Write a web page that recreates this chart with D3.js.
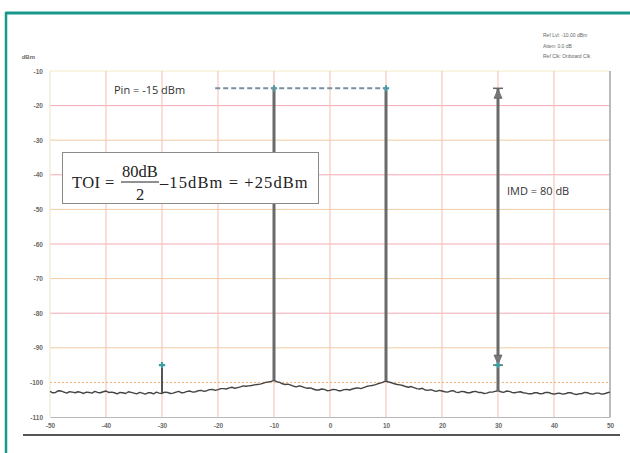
<!DOCTYPE html>
<html>
<head>
<meta charset="utf-8">
<script src="https://cdn.jsdelivr.net/npm/d3@7/dist/d3.min.js"></script>
<style>
  html, body { margin: 0; padding: 0; background: #fff; }
  svg { display: block; }
</style>
</head>
<body>
<svg id="chart" width="630" height="453"></svg>
<script>
// ---- Data -------------------------------------------------------------
// Frequency offset axis (MHz from centre) and level axis (dBm)
const freqTicks = [-50, -40, -30, -20, -10, 0, 10, 20, 30, 40, 50];
const levelTicks = [-10, -20, -30, -40, -50, -60, -70, -80, -90, -100, -110];

// Measured noise floor, one sample every 0.5 MHz starting at -50 MHz
const traceStart = -50;
const traceStep = 0.5;
const traceLevel = [
  -102.6, -103.0, -102.9, -102.4, -102.5, -102.8, -103.1, -102.7, -102.8, -103.0,
  -102.7, -102.9, -103.2, -102.8, -102.9, -103.1, -102.6, -102.9, -103.0, -102.7,
  -102.5, -102.9, -102.8, -103.0, -103.3, -102.9, -103.0, -103.2, -102.7, -102.9,
  -103.1, -103.3, -102.9, -103.1, -103.4, -103.0, -103.0, -103.3, -102.8, -103.1,
  -103.2, -102.8, -102.9, -103.2, -103.1, -102.8, -102.6, -103.0, -102.9, -102.6,
  -102.5, -102.8, -102.7, -102.4, -102.3, -102.6, -102.4, -102.1, -102.0, -102.3,
  -102.1, -101.8, -101.8, -101.9, -101.6, -101.4, -101.7, -101.5, -101.3, -101.0,
  -101.1, -101.0, -100.9, -100.7, -100.6, -100.5, -100.3, -100.0, -99.9, -99.7,
  -99.4, -99.8, -100.0, -100.4, -100.6, -100.5, -100.8, -101.1, -101.3, -101.0,
  -101.2, -101.5, -101.7, -101.6, -101.9, -102.2, -102.2, -101.9, -102.0, -102.4,
  -102.3, -102.0, -102.1, -102.4, -102.4, -102.1, -102.0, -102.2, -101.9, -101.7,
  -101.6, -101.8, -101.5, -101.2, -101.0, -100.9, -100.7, -100.4, -100.2, -99.9,
  -99.6, -99.9, -100.1, -100.4, -100.6, -100.7, -100.9, -101.2, -101.4, -101.2,
  -101.5, -101.8, -101.9, -101.7, -102.2, -102.3, -102.1, -102.4, -102.6, -102.3,
  -102.5, -102.7, -102.8, -102.5, -102.4, -102.8, -102.9, -102.6, -102.7, -103.0,
  -103.0, -102.7, -102.6, -102.9, -102.9, -103.2, -103.1, -102.8, -102.8, -102.6,
  -102.4, -102.7, -102.9, -102.5, -102.6, -102.9, -103.0, -102.8, -102.7, -103.0,
  -103.1, -103.3, -103.3, -103.0, -103.0, -103.3, -103.2, -102.9, -102.9, -103.2,
  -103.4, -103.2, -103.1, -103.4, -103.3, -103.0, -103.0, -103.3, -103.5, -103.3,
  -103.2, -102.9, -103.0, -103.3, -103.4, -103.1, -103.1, -103.4, -103.3, -103.0,
  -102.8
];

// Two input tones and the third-order intermodulation products
const toneFreq = [-10, 10];
const toneLevel = [-15, -15];
const imdFreq = [-30, 30];
const imdLevel = [-95, -95];

// Annotations
const pinLevel = -15;
const pinLineStart = -20.5;
const imdDb = 80;
const instrumentInfo = ["Ref Lvl: -10.00 dBm", "Atten: 0.0 dB", "Ref Clk: Onboard Clk"];

// ---- Layout -----------------------------------------------------------
const svg = d3.select("#chart");
const W = 630, H = 453;
const plot = { left: 50, right: 610, top: 71, bottom: 417 };

const x = d3.scaleLinear().domain([-50, 50]).range([plot.left, plot.right]);
const y = d3.scaleLinear().domain([-110, -10]).range([plot.bottom, plot.top]);

const teal = "#17988a";
const markerTeal = "#3a9fa3";

// Frame
svg.append("line").attr("x1", 5.5).attr("x2", W).attr("y1", 13).attr("y2", 13)
  .attr("stroke", teal).attr("stroke-width", 3);
svg.append("line").attr("x1", 6).attr("x2", 6).attr("y1", 12).attr("y2", H)
  .attr("stroke", teal).attr("stroke-width", 2.5);

// ---- Grid -------------------------------------------------------------
const grid = svg.append("g");
levelTicks.forEach(v => {
  if (v === -110) return;
  let color, dash = null;
  if (v === -10) color = "#f3ebc6";
  else if (v === -100) { color = "#f2aa6a"; dash = "2,2"; }
  else if (v % 20 === 0) color = "#f4abb8";
  else color = "#f3cca6";
  grid.append("line")
    .attr("x1", plot.left).attr("x2", plot.right)
    .attr("y1", y(v)).attr("y2", y(v))
    .attr("stroke", color).attr("stroke-width", 1)
    .attr("stroke-dasharray", dash);
});
freqTicks.forEach(f => {
  if (f === 50) return;
  grid.append("line")
    .attr("x1", x(f)).attr("x2", x(f))
    .attr("y1", plot.top).attr("y2", plot.bottom)
    .attr("stroke", f === -50 ? "#ebe4c8" : "#f2bfae").attr("stroke-width", 1);
});
// Right border of the display
grid.append("line").attr("x1", x(50)).attr("x2", x(50))
  .attr("y1", plot.top).attr("y2", plot.bottom)
  .attr("stroke", "#a5a5a5").attr("stroke-width", 1.5);

// ---- Axes -------------------------------------------------------------
const tickFont = "Liberation Sans, Arial, sans-serif";
const yAxis = svg.append("g")
  .attr("transform", `translate(${plot.left},0)`)
  .call(d3.axisLeft(y).tickValues(levelTicks).tickSize(0).tickPadding(7)
    .tickFormat(d => d));
yAxis.select(".domain").remove();
yAxis.selectAll("text")
  .attr("font-family", tickFont)
  .attr("font-size", 6.5).attr("font-weight", "bold").attr("fill", "#6a6a6a");

const xAxis = svg.append("g")
  .attr("transform", `translate(0,${plot.bottom})`)
  .call(d3.axisBottom(x).tickValues(freqTicks).tickSize(0).tickPadding(6)
    .tickFormat(d => d));
xAxis.select(".domain").attr("stroke", "#b8b8b8").attr("stroke-width", 1.2);
xAxis.selectAll("text")
  .attr("font-family", tickFont)
  .attr("font-size", 6.5).attr("font-weight", "bold").attr("fill", "#6a6a6a");

svg.append("text").attr("x", 35).attr("y", 59).attr("text-anchor", "end")
  .attr("font-family", tickFont)
  .attr("font-size", 6).attr("font-weight", "bold").attr("fill", "#6a6a6a")
  .text("dBm");

// Rule under the axis labels
svg.append("line").attr("x1", 23).attr("x2", 620).attr("y1", 435).attr("y2", 435)
  .attr("stroke", "#555").attr("stroke-width", 2);

// Instrument settings block
svg.append("g").selectAll("text").data(instrumentInfo).join("text")
  .attr("x", 543).attr("y", (d, i) => 37 + i * 10.5)
  .attr("font-family", tickFont)
  .attr("font-size", 5).attr("fill", "#666")
  .text(d => d);

// ---- Spectrum trace -------------------------------------------------------
const trace = traceLevel.map((v, i) => ({ f: traceStart + i * traceStep, v }));
const floorAt = f => {
  const i = Math.round((f - traceStart) / traceStep);
  return traceLevel[Math.max(0, Math.min(traceLevel.length - 1, i))];
};

svg.append("path")
  .datum(trace)
  .attr("fill", "none").attr("stroke", "#444").attr("stroke-width", 1.4)
  .attr("stroke-linejoin", "round")
  .attr("d", d3.line().x(d => x(d.f)).y(d => y(d.v)));

// Tones
const tones = toneFreq.map((f, i) => ({ f, v: toneLevel[i] }));
svg.append("g").selectAll("line").data(tones).join("line")
  .attr("x1", d => x(d.f)).attr("x2", d => x(d.f))
  .attr("y1", d => y(floorAt(d.f))).attr("y2", d => y(d.v))
  .attr("stroke", "#6a6a6a").attr("stroke-width", 3);

// Intermodulation products
const imds = imdFreq.map((f, i) => ({ f, v: imdLevel[i] }));
svg.append("g").selectAll("line").data(imds).join("line")
  .attr("x1", d => x(d.f)).attr("x2", d => x(d.f))
  .attr("y1", d => y(floorAt(d.f))).attr("y2", d => y(d.v))
  .attr("stroke", "#555").attr("stroke-width", 2);

// IMD dimension line from tone level down to the product
const dimF = imdFreq[1];
const dimTop = pinLevel, dimBot = imdLevel[1];
svg.append("line")
  .attr("x1", x(dimF)).attr("x2", x(dimF))
  .attr("y1", y(dimTop)).attr("y2", y(floorAt(dimF)))
  .attr("stroke", "#6a6a6a").attr("stroke-width", 3);
const arrowG = svg.append("g").attr("fill", "#777").attr("stroke", "#666");
// top arrow: bar plus head pointing up
arrowG.append("line").attr("x1", x(dimF) - 5).attr("x2", x(dimF) + 5)
  .attr("y1", y(dimTop)).attr("y2", y(dimTop)).attr("stroke-width", 1.5);
arrowG.append("path").attr("stroke-width", 0.8)
  .attr("d", `M${x(dimF)},${y(dimTop) + 1} l-4,9 l8,0 Z`);
// bottom arrow: head pointing down to bar
arrowG.append("line").attr("x1", x(dimF) - 5).attr("x2", x(dimF) + 5)
  .attr("y1", y(dimBot)).attr("y2", y(dimBot)).attr("stroke-width", 1.5);
arrowG.append("path").attr("stroke-width", 0.8)
  .attr("d", `M${x(dimF)},${y(dimBot) - 1} l-4,-9 l8,0 Z`);

// Peak markers
const markers = tones.concat(imds);
svg.append("g").selectAll("path").data(markers).join("path")
  .attr("transform", d => `translate(${x(d.f)},${y(d.v)})`)
  .attr("d", d3.symbol(d3.symbolCross, 22)())
  .attr("fill", markerTeal).attr("stroke", "none");

// ---- Annotations ------------------------------------------------------
// Input power reference
svg.append("line")
  .attr("x1", x(pinLineStart)).attr("x2", x(toneFreq[1]))
  .attr("y1", y(pinLevel)).attr("y2", y(pinLevel))
  .attr("stroke", "#7a8fa0").attr("stroke-width", 2)
  .attr("stroke-dasharray", "5,3");
svg.append("text").attr("x", 114).attr("y", y(pinLevel) + 6)
  .attr("font-family", "Open Sans, Liberation Sans, sans-serif")
  .attr("font-size", 11).attr("fill", "#333")
  .text(`Pin = ${pinLevel} dBm`);

svg.append("text").attr("x", 507).attr("y", 195)
  .attr("font-family", "Open Sans, Liberation Sans, sans-serif")
  .attr("font-size", 11).attr("fill", "#333")
  .text(`IMD = ${imdDb} dB`);

// TOI formula box
const toi = imdDb / 2 + pinLevel;
const box = svg.append("g");
box.append("rect").attr("x", 62.5).attr("y", 152.5).attr("width", 256).attr("height", 51)
  .attr("fill", "#fff").attr("stroke", "#8a8a8a").attr("stroke-width", 1);
const serif = "Liberation Serif, Times New Roman, serif";
box.append("text").attr("x", 72).attr("y", 188)
  .attr("font-family", serif).attr("font-size", 16.5).attr("fill", "#222")
  .attr("letter-spacing", 0.4)
  .text("TOI =");
box.append("text").attr("x", 140).attr("y", 177).attr("text-anchor", "middle")
  .attr("font-family", serif).attr("font-size", 16.5).attr("fill", "#222")
  .text(`${imdDb}dB`);
box.append("line").attr("x1", 121).attr("x2", 159).attr("y1", 182).attr("y2", 182)
  .attr("stroke", "#222").attr("stroke-width", 1);
box.append("text").attr("x", 140).attr("y", 200).attr("text-anchor", "middle")
  .attr("font-family", serif).attr("font-size", 16.5).attr("fill", "#222")
  .text("2");
box.append("text").attr("x", 160).attr("y", 188)
  .attr("font-family", serif).attr("font-size", 16.5).attr("fill", "#222")
  .attr("letter-spacing", 1.1)
  .text(`\u2013${-pinLevel}dBm = +${toi}dBm`);
</script>
</body>
</html>
